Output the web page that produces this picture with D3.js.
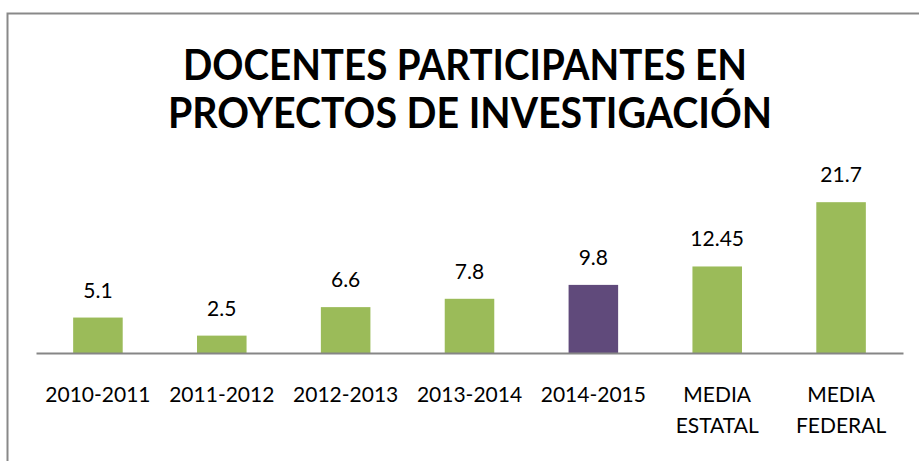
<!DOCTYPE html>
<html><head><meta charset="utf-8">
<script src="https://cdn.jsdelivr.net/npm/d3@7/dist/d3.min.js"></script>
<style>html,body{margin:0;padding:0;background:#fff;overflow:hidden}</style>
</head><body>
<svg id="c" width="919" height="461"></svg>
<script>
const categories = [["2010-2011"],["2011-2012"],["2012-2013"],["2013-2014"],["2014-2015"],["MEDIA","ESTATAL"],["MEDIA","FEDERAL"]];
const values = [5.1, 2.5, 6.6, 7.8, 9.8, 12.45, 21.7];
const valueLabels = ["5.1","2.5","6.6","7.8","9.8","12.45","21.7"];
const highlight = [false,false,false,false,true,false,false];
const titleLines = ["DOCENTES PARTICIPANTES EN","PROYECTOS DE INVESTIGACIÓN"];

const svg = d3.select("#c");
const font = "Lato, 'Open Sans', sans-serif";

// chart frame (left and top edges visible)
svg.append("rect").attr("x",7.5).attr("y",13.5).attr("width",1000).attr("height",600)
  .attr("fill","none").attr("stroke","#898989").attr("stroke-width",2);

const x = d3.scaleBand().domain(categories.map((d,i)=>i)).range([36,903]).paddingInner(0.6).paddingOuter(0.3);
const y = d3.scaleLinear().domain([0,24]).range([353,353-24*6.95]);

// title
const titleTargets = [[183,747,80],[168,772,128]];
titleLines.forEach((t,i)=>{
  const [x0,x1,by] = titleTargets[i];
  svg.append("text").attr("x",(x0+x1)/2).attr("y",by).attr("text-anchor","middle")
    .attr("font-family",font).attr("font-weight","bold").attr("font-size",42).attr("fill","#000")
    .attr("textLength",x1-x0).attr("lengthAdjust","spacingAndGlyphs").text(t);
});

// bars
svg.selectAll("rect.bar").data(values).enter().append("rect").attr("class","bar")
  .attr("x",(d,i)=>x(i)).attr("width",x.bandwidth())
  .attr("y",d=>y(d)).attr("height",d=>y(0)-y(d))
  .attr("fill",(d,i)=>highlight[i]?"#604A7B":"#9BBB59");

// value labels
svg.selectAll("text.val").data(values).enter().append("text").attr("class","val")
  .attr("x",(d,i)=>x(i)+x.bandwidth()/2).attr("y",d=>y(d)-20)
  .attr("text-anchor","middle").attr("font-family",font).attr("font-size",21).attr("fill","#000")
  .text((d,i)=>valueLabels[i]);

// axis
const ax = svg.append("g").attr("transform","translate(0,353)")
  .call(d3.axisBottom(x).tickSize(0).tickFormat(""));
ax.select(".domain").attr("stroke","#868686").attr("stroke-width",2);

// category labels
categories.forEach((lines,i)=>{
  const t = svg.append("text").attr("x",x(i)+x.bandwidth()/2).attr("y",402)
    .attr("text-anchor","middle").attr("font-family",font).attr("font-size",21).attr("fill","#000");
  lines.forEach((l,j)=>t.append("tspan").attr("x",x(i)+x.bandwidth()/2).attr("dy",j?31:0).text(l));
});
</script>
</body></html>
